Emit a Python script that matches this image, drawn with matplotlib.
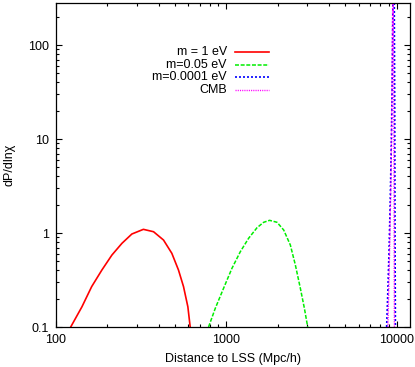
import matplotlib
matplotlib.use('Agg')
import matplotlib.pyplot as plt
from matplotlib.ticker import FixedLocator, FixedFormatter, LogLocator, NullFormatter

plt.rcParams['font.family'] = ['Liberation Sans', 'DejaVu Sans']
plt.rcParams['font.size'] = 9

# values
red_x = [122, 142, 162, 186, 213, 244, 279, 326, 374, 428, 479, 524, 561, 595, 614]
red_y = [0.1, 0.164, 0.269, 0.404, 0.583, 0.777, 0.976, 1.094, 1.032, 0.842,
         0.608, 0.404, 0.269, 0.164, 0.1]

green_x = [787, 862, 964, 1080, 1209, 1353, 1516, 1658, 1797, 1987, 2174, 2379,
           2546, 2724, 2877, 3008]
green_y = [0.1, 0.158, 0.258, 0.421, 0.632, 0.879, 1.139, 1.30, 1.364, 1.30,
           1.077, 0.745, 0.457, 0.258, 0.158, 0.1]

blue_x = [8750, 8900, 9050, 9200, 9350, 9450, 9550, 9700, 9760, 9800, 9850]
blue_y = [0.1, 0.25, 0.7, 2.5, 12, 60, 500, 300, 20, 1, 0.1]

cmb_x = [8900, 9100, 9300, 9450, 9550, 9650, 9720]
cmb_y = [0.1, 0.6, 5, 100, 1000, 10, 0.1]

labels = ['m = 1 eV', 'm=0.05 eV', 'm=0.0001 eV', 'CMB']

fig = plt.figure(figsize=(4.15, 3.67), dpi=100)
ax = fig.add_axes([56 / 415, 1 - 327 / 367, 354 / 415, 324 / 367])

styles = [
    dict(color='#ff0000', lw=1.2, ls='-'),
    dict(color='#00ee00', lw=1.1, ls=(0, (2.6, 1.1))),
    dict(color='#0000ff', lw=1.2, ls=(0, (1.2, 1.2))),
    dict(color='#ff00ff', lw=1.0, ls=(0, (0.8, 0.8))),
]
series = [(red_x, red_y), (green_x, green_y), (blue_x, blue_y), (cmb_x, cmb_y)]

for (xs, ys), st in zip(series, styles):
    ax.plot(xs, ys, **st)

ax.set_xscale('log')
ax.set_yscale('log')
ax.set_xlim(100, 12000)
ax.set_ylim(0.1, 280)

ax.xaxis.set_major_locator(FixedLocator([100, 1000, 10000]))
ax.xaxis.set_major_formatter(FixedFormatter(['100', '1000', '10000']))
ax.yaxis.set_major_locator(FixedLocator([0.1, 1, 10, 100]))
ax.yaxis.set_major_formatter(FixedFormatter(['0.1', '1', '10', '100']))
for a in (ax.xaxis, ax.yaxis):
    a.set_minor_locator(LogLocator(base=10, subs=range(2, 10), numticks=20))
    a.set_minor_formatter(NullFormatter())

ax.tick_params(which='both', direction='in', top=True, right=True, width=0.8)
ax.tick_params(which='major', length=4, pad=5)
ax.tick_params(which='minor', length=2.2)
for s in ax.spines.values():
    s.set_linewidth(0.9)

ax.set_xlabel('Distance to LSS (Mpc/h)', labelpad=5)
ax.set_ylabel('dP/dlnχ', labelpad=9)

# gnuplot-style key: label right-aligned, sample on the right
rows_y = [0.849, 0.810, 0.771, 0.732]
for yk, lab, st in zip(rows_y, labels, styles):
    ax.text(0.483, yk, lab, ha='right', va='center', transform=ax.transAxes)
    ax.plot([0.506, 0.602], [yk, yk], transform=ax.transAxes, **st)

fig.savefig('out.png', dpi=100)
